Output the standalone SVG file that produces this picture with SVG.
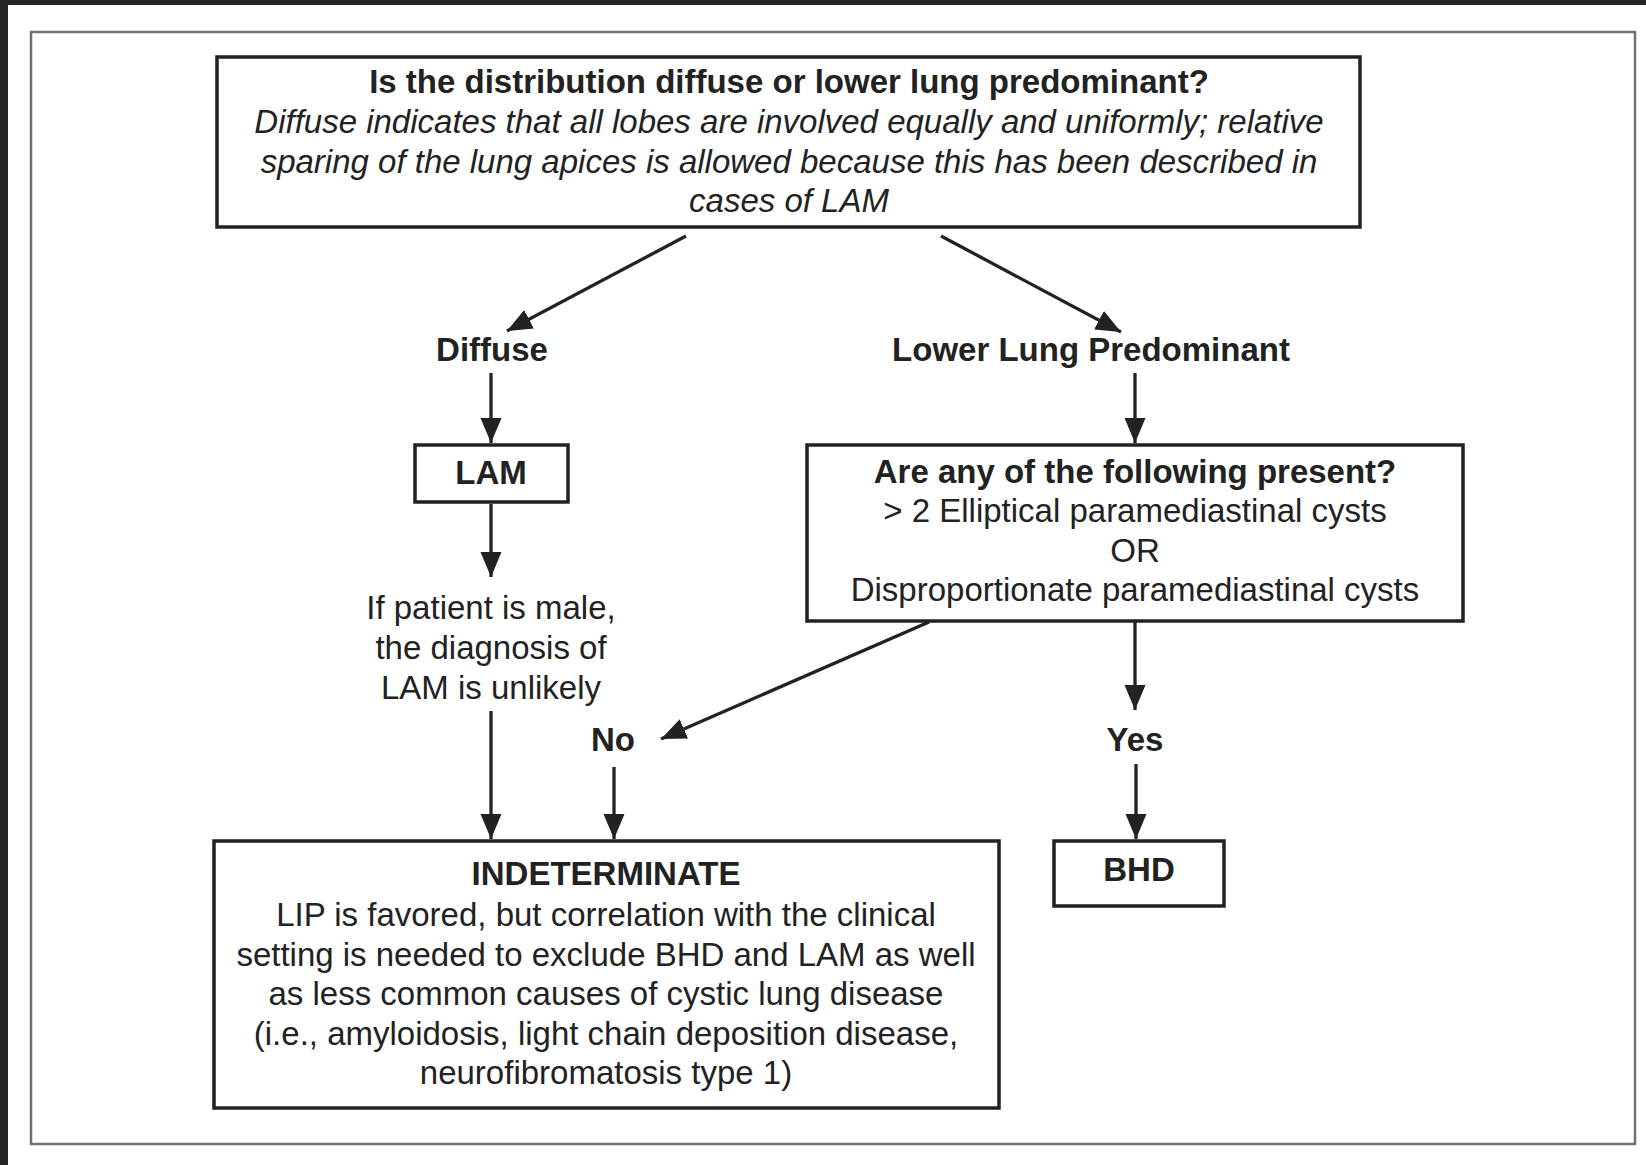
<svg xmlns="http://www.w3.org/2000/svg" width="1646" height="1165" viewBox="0 0 1646 1165">
<style>
.t{font-family:"Liberation Sans",Arial,sans-serif;font-size:33px;fill:#222;text-anchor:middle}
.b{font-weight:bold}
.i{font-style:italic}
.box{fill:#fff;stroke:#222;stroke-width:3.5}
.c{stroke:#222;stroke-width:3.3;fill:none}
</style>
<defs>
<marker id="ah" markerUnits="userSpaceOnUse" markerWidth="26" markerHeight="22" refX="25" refY="10.5" orient="auto">
<path d="M0,0 L25,10.5 L0,21 Z" fill="#222"/>
</marker>
</defs>
<rect x="0" y="0" width="1646" height="1165" fill="#fff"/>
<rect x="0" y="0" width="1646" height="5" fill="#262626"/>
<rect x="0" y="0" width="8" height="1165" fill="#262626"/>
<rect x="31" y="32" width="1604" height="1112" fill="none" stroke="#707070" stroke-width="2.5"/>

<g id="connectors">
<line class="c" x1="686" y1="236" x2="507" y2="331" marker-end="url(#ah)"/>
<line class="c" x1="941" y1="236" x2="1121" y2="332" marker-end="url(#ah)"/>
<line class="c" x1="491" y1="373" x2="491" y2="443" marker-end="url(#ah)"/>
<line class="c" x1="1135" y1="373" x2="1135" y2="443" marker-end="url(#ah)"/>
<line class="c" x1="491" y1="504" x2="491" y2="577" marker-end="url(#ah)"/>
<line class="c" x1="491" y1="711" x2="491" y2="839" marker-end="url(#ah)"/>
<line class="c" x1="929" y1="622" x2="661" y2="739" marker-end="url(#ah)"/>
<line class="c" x1="614" y1="767" x2="614" y2="839" marker-end="url(#ah)"/>
<line class="c" x1="1135" y1="622" x2="1135" y2="710" marker-end="url(#ah)"/>
<line class="c" x1="1136" y1="764" x2="1136" y2="839" marker-end="url(#ah)"/>
</g>

<g id="question1">
<rect class="box" x="217" y="57" width="1143" height="170"/>
<text class="t b" x="789" y="93">Is the distribution diffuse or lower lung predominant?</text>
<text class="t i" x="789" y="133">Diffuse indicates that all lobes are involved equally and uniformly; relative</text>
<text class="t i" x="789" y="173">sparing of the lung apices is allowed because this has been described in</text>
<text class="t i" x="789" y="212">cases of LAM</text>
</g>

<g id="diffuse"><text class="t b" x="492" y="361">Diffuse</text></g>
<g id="lower"><text class="t b" x="1091" y="361">Lower Lung Predominant</text></g>

<g id="lam">
<rect class="box" x="415" y="445" width="153" height="57"/>
<text class="t b" x="491" y="484">LAM</text>
</g>

<g id="question2">
<rect class="box" x="807" y="445" width="656" height="176"/>
<text class="t b" x="1135" y="483">Are any of the following present?</text>
<text class="t" x="1135" y="522">&gt; 2 Elliptical paramediastinal cysts</text>
<text class="t" x="1135" y="562">OR</text>
<text class="t" x="1135" y="601">Disproportionate paramediastinal cysts</text>
</g>

<g id="male-note">
<text class="t" x="491" y="619">If patient is male,</text>
<text class="t" x="491" y="659">the diagnosis of</text>
<text class="t" x="491" y="699">LAM is unlikely</text>
</g>

<g id="no"><text class="t b" x="613" y="751">No</text></g>
<g id="yes"><text class="t b" x="1135" y="751">Yes</text></g>

<g id="indeterminate">
<rect class="box" x="214" y="841" width="785" height="267"/>
<text class="t b" x="606" y="885">INDETERMINATE</text>
<text class="t" x="606" y="926">LIP is favored, but correlation with the clinical</text>
<text class="t" x="606" y="966">setting is needed to exclude BHD and LAM as well</text>
<text class="t" x="606" y="1005">as less common causes of cystic lung disease</text>
<text class="t" x="606" y="1045">(i.e., amyloidosis, light chain deposition disease,</text>
<text class="t" x="606" y="1084">neurofibromatosis type 1)</text>
</g>

<g id="bhd">
<rect class="box" x="1054" y="841" width="170" height="65"/>
<text class="t b" x="1139" y="881">BHD</text>
</g>
</svg>
